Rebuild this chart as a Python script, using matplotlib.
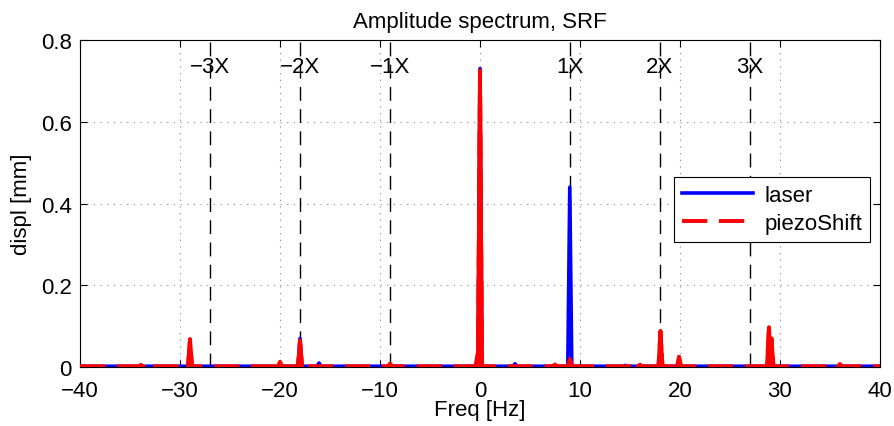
# Amplitude spectrum, SRF
import numpy as np
import matplotlib.pyplot as plt

plt.rcParams['font.family'] = ['Liberation Sans', 'DejaVu Sans']

# peaks: frequency [Hz] and amplitude [mm]
laser_peak_f = [-33.9, -29.0, -18.0, -16.1, -9.0, 0.0, 3.5, 8.98, 14.5, 18.05, 19.9, 28.9]
laser_peak_a = [0.003, 0.026, 0.070, 0.010, 0.004, 0.730, 0.008, 0.440, 0.004, 0.035, 0.012, 0.038]

piezo_peak_f = [-33.9, -29.0, -20.0, -18.0, -9.0, -0.25, 0.0, 7.5, 9.0, 16.0, 18.05, 19.9, 28.9, 29.15, 36.0]
piezo_peak_a = [0.005, 0.068, 0.013, 0.065, 0.008, 0.032, 0.725, 0.006, 0.020, 0.006, 0.088, 0.025, 0.097, 0.070, 0.007]

baseline = 0.002
harmonics = [-3, -2, -1, 1, 2, 3]
f_run = 9.0  # 1X [Hz]
hw = 0.2  # half width of a peak [Hz]


def spectrum(peak_f, peak_a):
    """polyline with narrow triangular peaks on a flat floor"""
    f = [-40.0]
    a = [baseline]
    for pf, pa in sorted(zip(peak_f, peak_a)):
        f += [pf - hw, pf, pf + hw]
        a += [baseline, pa, baseline]
    f.append(40.0)
    a.append(baseline)
    return np.array(f), np.array(a)


fs = 16
fig = plt.figure(figsize=(8.94, 4.27), dpi=100)
ax = fig.add_axes([0.0895, 0.138, 0.8948, 0.766])

lf, la = spectrum(laser_peak_f, laser_peak_a)
pf, pa = spectrum(piezo_peak_f, piezo_peak_a)
ax.plot(lf, la, '-', color='blue', linewidth=2.6, label='laser', zorder=3)
ax.plot(pf, pa, '--', color='red', linewidth=2.8, label='piezoShift',
        dashes=(6.5, 3), zorder=4)
# matlab keeps the dashed peaks solid
for f0, a0 in zip(piezo_peak_f, piezo_peak_a):
    ax.plot([f0 - hw, f0, f0 + hw], [baseline, a0, baseline], '-', color='red',
            linewidth=2.8, zorder=4)

# running speed harmonics
for k in harmonics:
    ax.axvline(k * f_run, color='black', linestyle=(0, (10, 6)), linewidth=1, zorder=2)
    ax.text(k * f_run, 0.734, f'{k}X'.replace('-', '\u2212'), ha='center', va='center',
            fontsize=fs)

ax.set_xlim(-40, 40)
ax.set_ylim(0, 0.8)
ax.set_xticks(np.arange(-40, 41, 10))
ax.set_yticks(np.arange(0, 0.81, 0.2))
ax.set_yticklabels(['0', '0.2', '0.4', '0.6', '0.8'])
ax.tick_params(labelsize=fs, direction='in', length=5, top=True, right=True)
ax.tick_params(axis='x', pad=9)
ax.tick_params(axis='y', pad=6)
ax.grid(True, linestyle=(0, (1, 5)), color='#888888', linewidth=0.8)
ax.set_title('Amplitude spectrum, SRF', fontsize=fs, pad=9)
ax.set_xlabel('Freq [Hz]', fontsize=fs, labelpad=-1)
ax.set_ylabel('displ [mm]', fontsize=fs, labelpad=6)

leg = ax.legend(loc='upper right', bbox_to_anchor=(0.9875, 0.58), fontsize=fs,
                fancybox=False, framealpha=1, edgecolor='black', handlelength=3.2,
                borderpad=0.35, labelspacing=0.3, handletextpad=0.5, borderaxespad=0)
leg.get_frame().set_linewidth(0.8)

plt.savefig('out.png', dpi=100)
